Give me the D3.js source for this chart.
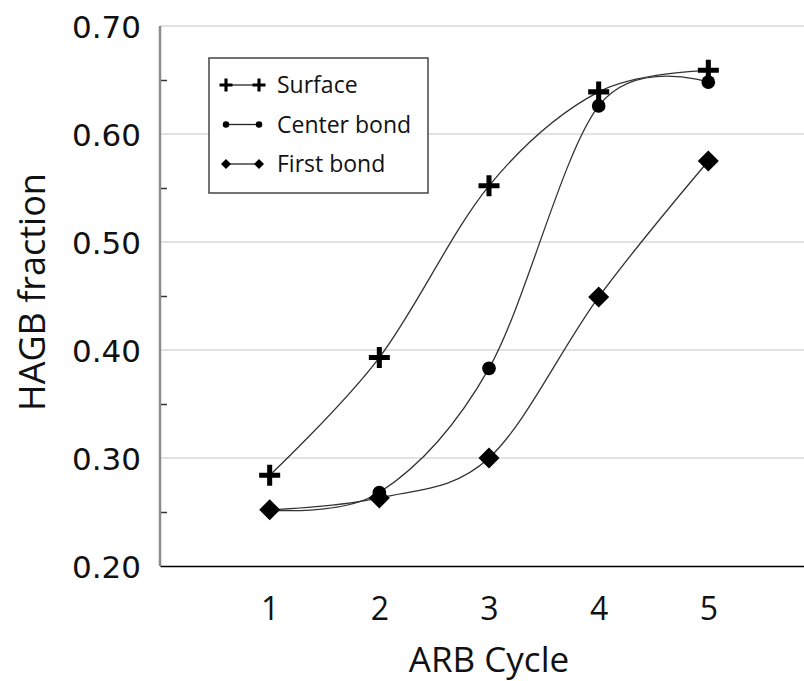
<!DOCTYPE html>
<html>
<head>
<meta charset="utf-8">
<script src="https://cdn.jsdelivr.net/npm/d3@7"></script>
<style>
  body { margin: 0; background: #fff; }
  svg { display: block; }
</style>
</head>
<body>
<div id="chart"></div>
<script>
// data
var cycles = [1, 2, 3, 4, 5];
var surface = [0.284, 0.393, 0.552, 0.639, 0.659];
var centerBond = [0.252, 0.268, 0.383, 0.626, 0.648];
var firstBond = [0.252, 0.263, 0.300, 0.449, 0.575];
var yTicks = [0.20, 0.30, 0.40, 0.50, 0.60, 0.70];
var yMinorTicks = [0.25, 0.35, 0.45, 0.55, 0.65];
var seriesNames = ["Surface", "Center bond", "First bond"];

var width = 804, height = 681;

var svg = d3.select("#chart")
  .append("svg")
    .attr("width", width)
    .attr("height", height);

var x = d3.scaleLinear().domain([0, 6]).range([160, 818]);
var y = d3.scaleLinear().domain([0.2, 0.7]).range([566, 26]);

// gridlines
svg.append("g").selectAll("line")
  .data(yTicks.slice(1))
  .enter().append("line")
    .attr("x1", x(0)).attr("x2", width)
    .attr("y1", function(d) { return y(d); })
    .attr("y2", function(d) { return y(d); })
    .attr("stroke", "#d9d9d9")
    .attr("stroke-width", 1.5);

// y axis: gray line, minor ticks pointing inward
var yAxis = svg.append("g")
  .attr("transform", "translate(" + x(0) + ",0)")
  .call(d3.axisRight(y).tickValues(yMinorTicks).tickSize(7).tickFormat(""));
yAxis.select(".domain").remove();
yAxis.selectAll(".tick line").attr("stroke", "#333").attr("stroke-width", 1.5);

svg.append("line")
  .attr("x1", x(0)).attr("x2", x(0))
  .attr("y1", y(0.7)).attr("y2", y(0.2))
  .attr("stroke", "#8c8c8c")
  .attr("stroke-width", 2.5);

// y tick labels
svg.append("g").selectAll("text")
  .data(yTicks)
  .enter().append("text")
    .attr("x", 141)
    .attr("y", function(d) { return y(d) + 11.5; })
    .attr("text-anchor", "end")
    .style("font-family", "DejaVu Sans")
    .style("font-size", "31px")
    .attr("fill", "#111")
    .text(function(d) { return d3.format(".2f")(d); });

// x axis
var xAxis = svg.append("g")
  .attr("transform", "translate(0," + y(0.2) + ")")
  .call(d3.axisBottom(x).tickValues(cycles).tickSize(0).tickPadding(31).tickFormat(d3.format("d")));
xAxis.select(".domain").attr("stroke", "#000").attr("stroke-width", 1.6);
xAxis.selectAll(".tick text")
  .style("font-family", "Open Sans")
  .style("font-size", "32px")
  .attr("fill", "#111");

// axis titles
svg.append("text")
  .attr("x", x(3))
  .attr("y", 672)
  .attr("text-anchor", "middle")
  .style("font-family", "Open Sans")
  .style("font-size", "35px")
  .attr("fill", "#111")
  .text("ARB Cycle");

svg.append("text")
  .attr("transform", "translate(45,292) rotate(-90)")
  .attr("text-anchor", "middle")
  .style("font-family", "Open Sans")
  .style("font-size", "36px")
  .attr("fill", "#111")
  .text("HAGB fraction");

// smoothed lines
var line = d3.line()
  .x(function(d, i) { return x(cycles[i]); })
  .y(function(d) { return y(d); })
  .curve(d3.curveCatmullRom.alpha(0));

var allSeries = [surface, centerBond, firstBond];
allSeries.forEach(function(s) {
  svg.append("path")
    .datum(s)
    .attr("fill", "none")
    .attr("stroke", "#333")
    .attr("stroke-width", 1.3)
    .attr("d", line);
});

// markers
function drawMarker(g, kind, cx, cy, size) {
  if (kind === 0) {
    g.append("path")
      .attr("d", "M" + (cx - size) + "," + cy + "H" + (cx + size) + "M" + cx + "," + (cy - size) + "V" + (cy + size))
      .attr("stroke", "#000")
      .attr("stroke-width", size * 0.48);
  } else if (kind === 1) {
    g.append("circle")
      .attr("cx", cx).attr("cy", cy).attr("r", size * 0.65)
      .attr("fill", "#000");
  } else {
    g.append("path")
      .attr("d", "M" + cx + "," + (cy - size) + "L" + (cx + size) + "," + cy + "L" + cx + "," + (cy + size) + "L" + (cx - size) + "," + cy + "Z")
      .attr("fill", "#000");
  }
}

var markers = svg.append("g");
allSeries.forEach(function(s, k) {
  s.forEach(function(v, i) {
    drawMarker(markers, k, x(cycles[i]), y(v), 10.5);
  });
});

// legend
var legend = svg.append("g");
legend.append("rect")
  .attr("x", 209).attr("y", 58)
  .attr("width", 219).attr("height", 135)
  .attr("fill", "#fff")
  .attr("stroke", "#444")
  .attr("stroke-width", 1.5);

seriesNames.forEach(function(name, k) {
  var ly = 85 + k * 39.5;
  legend.append("line")
    .attr("x1", 227).attr("x2", 259)
    .attr("y1", ly).attr("y2", ly)
    .attr("stroke", "#222")
    .attr("stroke-width", 1.3);
  drawMarker(legend, k, 226, ly, k === 0 ? 6.5 : 5);
  drawMarker(legend, k, 259, ly, k === 0 ? 6.5 : 5);
  legend.append("text")
    .attr("x", 277)
    .attr("y", ly + 8)
    .style("font-family", "Open Sans")
    .style("font-size", "23px")
    .attr("fill", "#111")
    .text(name);
});
</script>
</body>
</html>
